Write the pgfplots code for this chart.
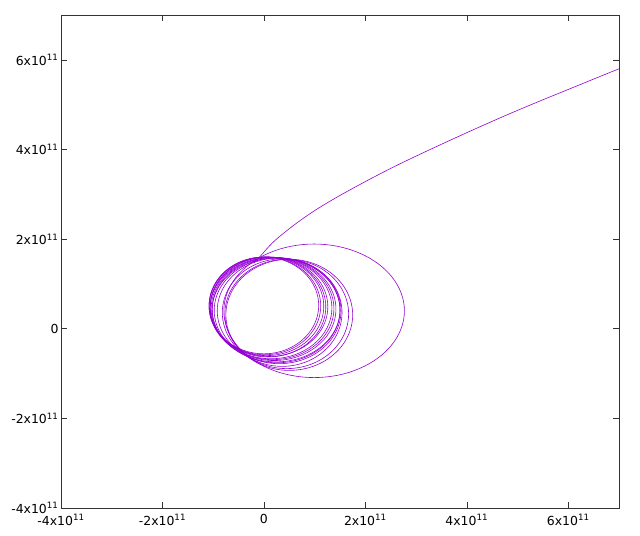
\documentclass[border=0pt]{standalone}
\usepackage{fontspec}
\setmainfont{DejaVu Sans}
\usepackage{pgfplots}
\pgfplotsset{compat=1.18}
\definecolor{orbit}{HTML}{9400D3}
\definecolor{frame}{HTML}{333333}

\begin{document}
\begin{tikzpicture}
\useasboundingbox (-61bp,-28bp) rectangle (579bp,508bp);
\begin{axis}[
  at={(0,0)}, anchor=south west,
  scale only axis, width=558bp, height=493bp,
  xmin=-4, xmax=7, ymin=-4, ymax=7,
  axis line style={frame, line width=0.8pt},
  tick align=inside, major tick length=6bp,
  tick style={frame, line width=0.6pt},
  xtick={-4,-2,0,2,4,6}, ytick={-4,-2,0,2,4,6},
  xticklabels={-4x10\textsuperscript{11},-2x10\textsuperscript{11},0,2x10\textsuperscript{11},4x10\textsuperscript{11},6x10\textsuperscript{11}},
  yticklabels={-4x10\textsuperscript{11},-2x10\textsuperscript{11},0,2x10\textsuperscript{11},4x10\textsuperscript{11},6x10\textsuperscript{11}},
  tick label style={font=\fontsize{12.5}{14}\selectfont, text=black},
  yticklabel style={xshift=1bp},
  xticklabel style={yshift=-3bp},
  orb/.style={orbit, line width=0.6pt, smooth cycle, tension=0.63, mark=none},
  esc/.style={orbit, line width=0.6pt, smooth, tension=0.6, mark=none},
  clip=true,
]
% orbit loops, units of 1e11
\addplot[orb] coordinates {(1.08,.52) (.935,1.06) (.54,1.455) (0,1.60) (-.54,1.455) (-.935,1.06) (-1.08,.52) (-.935,-.02) (-.54,-.415) (0,-.56) (.54,-.415) (.935,-.02)};
\addplot[orb] coordinates {(1.12,.51) (.972,1.055) (.57,1.454) (.02,1.60) (-.53,1.454) (-.933,1.055) (-1.08,.51) (-.933,-.035) (-.53,-.434) (.02,-.58) (.57,-.434) (.972,-.035)};
\addplot[orb] coordinates {(1.18,.50) (1.029,1.05) (.615,1.453) (.05,1.60) (-.515,1.453) (-.929,1.05) (-1.08,.50) (-.929,-.05) (-.515,-.453) (.05,-.60) (.615,-.453) (1.029,-.05)};
\addplot[orb] coordinates {(1.22,.485) (1.067,1.043) (.65,1.451) (.08,1.60) (-.49,1.451) (-.907,1.043) (-1.06,.485) (-.907,-.073) (-.49,-.481) (.08,-.63) (.65,-.481) (1.067,-.073)};
\addplot[orb] coordinates {(1.26,.49) (1.105,1.045) (.68,1.451) (.10,1.60) (-.48,1.451) (-.905,1.045) (-1.06,.49) (-.905,-.065) (-.48,-.471) (.10,-.62) (.68,-.471) (1.105,-.065)};
\addplot[orb] coordinates {(1.34,.46) (1.179,1.025) (.74,1.439) (.14,1.59) (-.46,1.439) (-.899,1.025) (-1.06,.46) (-.899,-.105) (-.46,-.519) (.14,-.67) (.74,-.519) (1.179,-.105)};
\addplot[orb] coordinates {(1.38,.45) (1.218,1.02) (.775,1.437) (.17,1.59) (-.435,1.437) (-.878,1.02) (-1.04,.45) (-.878,-.12) (-.435,-.537) (.17,-.69) (.775,-.537) (1.218,-.12)};
\addplot[orb] coordinates {(1.42,.44) (1.257,1.015) (.81,1.436) (.20,1.59) (-.41,1.436) (-.857,1.015) (-1.02,.44) (-.857,-.135) (-.41,-.556) (.20,-.71) (.81,-.556) (1.257,-.135)};
\addplot[orb] coordinates {(1.50,.42) (1.331,1.00) (.87,1.425) (.24,1.58) (-.39,1.425) (-.851,1.00) (-1.02,.42) (-.851,-.16) (-.39,-.585) (.24,-.74) (.87,-.585) (1.331,-.16)};
\addplot[orb] coordinates {(1.50,.41) (1.334,.995) (.88,1.423) (.26,1.58) (-.36,1.423) (-.814,.995) (-.98,.41) (-.814,-.175) (-.36,-.603) (.26,-.76) (.88,-.603) (1.334,-.175)};
\addplot[orb] coordinates {(1.52,.40) (1.357,.99) (.91,1.422) (.30,1.58) (-.31,1.422) (-.757,.99) (-.92,.40) (-.757,-.19) (-.31,-.622) (.30,-.78) (.91,-.622) (1.357,-.19)};
\addplot[orb] coordinates {(1.54,.36) (1.382,.96) (.95,1.399) (.36,1.56) (-.23,1.399) (-.662,.96) (-.82,.36) (-.662,-.24) (-.23,-.679) (.36,-.84) (.95,-.679) (1.382,-.24)};
\addplot[orb] coordinates {(1.67,.33) (1.507,.94) (1.06,1.387) (.45,1.55) (-.16,1.387) (-.607,.94) (-.77,.33) (-.607,-.28) (-.16,-.727) (.45,-.89) (1.06,-.727) (1.507,-.28)};
\addplot[orb] coordinates {(1.75,.31) (1.583,.93) (1.125,1.384) (.50,1.55) (-.125,1.384) (-.583,.93) (-.75,.31) (-.583,-.31) (-.125,-.764) (.50,-.93) (1.125,-.764) (1.583,-.31)};
% wide loop
\addplot[orb] coordinates {(2.77,.40) (2.531,1.145) (1.88,1.69) (.99,1.89) (.10,1.69) (-.551,1.145) (-.79,.40) (-.551,-.345) (.10,-.89) (.99,-1.09) (1.88,-.89) (2.531,-.345)};
% escape branch
\addplot[esc] coordinates {(-.20,1.47) (-.07,1.62) (.30,2.05) (1.09,2.70) (2.28,3.45) (3.47,4.10) (4.85,4.80) (6.24,5.45) (7.0,5.80)};
\end{axis}
\end{tikzpicture}
\end{document}
